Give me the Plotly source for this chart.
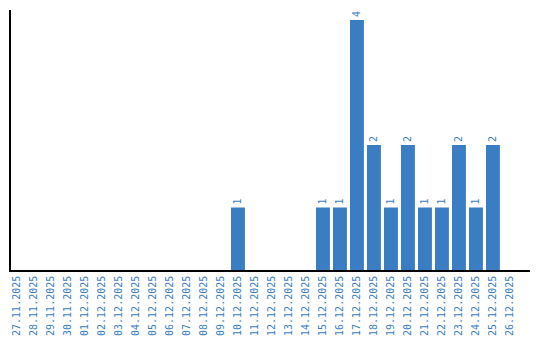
import plotly.graph_objects as go

dates = ["27.11.2025", "28.11.2025", "29.11.2025", "30.11.2025", "01.12.2025", "02.12.2025",
         "03.12.2025", "04.12.2025", "05.12.2025", "06.12.2025", "07.12.2025", "08.12.2025",
         "09.12.2025", "10.12.2025", "11.12.2025", "12.12.2025", "13.12.2025", "14.12.2025",
         "15.12.2025", "16.12.2025", "17.12.2025", "18.12.2025", "19.12.2025", "20.12.2025",
         "21.12.2025", "22.12.2025", "23.12.2025", "24.12.2025", "25.12.2025", "26.12.2025"]
counts = [0, 0, 0, 0, 0, 0, 0, 0, 0, 0, 0, 0, 0, 1, 0, 0, 0, 0,
          1, 1, 4, 2, 1, 2, 1, 1, 2, 1, 2, 0]

blue = "#3b7dc3"
labels = [str(v) if v > 0 else "" for v in counts]

fig = go.Figure(go.Bar(
    x=dates, y=counts, marker_color=blue, marker_line_width=0,
    width=0.82,
    text=labels, textposition="outside", textangle=-90,
    textfont=dict(family="DejaVu Sans Mono", size=10, color=blue),
    cliponaxis=False,
))
fig.update_layout(
    width=540, height=340,
    margin=dict(l=11, r=10, t=10, b=70),
    paper_bgcolor="white", plot_bgcolor="white",
    showlegend=False,
    xaxis=dict(type="category", tickangle=-90, showline=True, linecolor="black", linewidth=1.5,
               range=[-0.35, 30.18], automargin=False,
               ticks="", showgrid=False,
               tickfont=dict(family="DejaVu Sans Mono", size=10, color=blue)),
    yaxis=dict(range=[0, 4.16], showline=True, linecolor="black", linewidth=1.5,
               showticklabels=False, ticks="", showgrid=False, zeroline=False,
               automargin=False),
)
fig.write_html("out.html")
